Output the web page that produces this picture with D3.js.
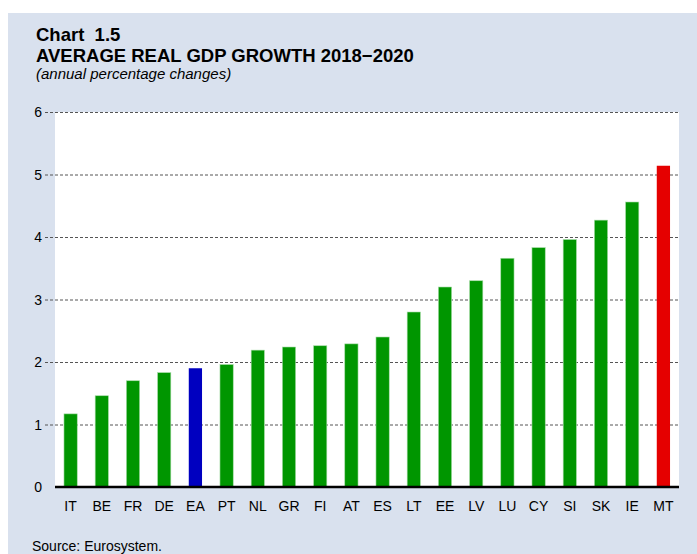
<!DOCTYPE html>
<html>
<head>
<meta charset="utf-8">
<script src="https://cdn.jsdelivr.net/npm/d3@7"></script>
<style>
  body { margin: 0; background: #fff; }
  svg { display: block; font-family: "Liberation Sans", Arial, sans-serif; }
</style>
</head>
<body>
<div id="chart"></div>
<script>
const countries = ['IT', 'BE', 'FR', 'DE', 'EA', 'PT', 'NL', 'GR', 'FI', 'AT', 'ES', 'LT', 'EE', 'LV', 'LU', 'CY', 'SI', 'SK', 'IE', 'MT'];
const growth = [1.17, 1.46, 1.70, 1.83, 1.90, 1.96, 2.19, 2.24, 2.26, 2.29, 2.40, 2.80, 3.20, 3.30, 3.66, 3.83, 3.96, 4.27, 4.56, 5.14];
const yTicks = [0, 1, 2, 3, 4, 5, 6];

const width = 697, height = 554;
const margin = { top: 112, right: 18, bottom: 67, left: 55 };

const svg = d3.select('#chart')
  .append('svg')
  .attr('width', width)
  .attr('height', height);

// panel background
svg.append('rect')
  .attr('x', 8).attr('y', 13)
  .attr('width', width - 8).attr('height', height - 13)
  .attr('fill', '#d9e1ee');

// titles
svg.append('text')
  .attr('x', 36).attr('y', 41)
  .style('font-size', '18.5px').style('font-weight', 'bold')
  .attr('xml:space', 'preserve')
  .text('Chart  1.5');
svg.append('text')
  .attr('x', 36).attr('y', 62)
  .style('font-size', '18.5px').style('font-weight', 'bold')
  .text('AVERAGE REAL GDP GROWTH 2018\u22122020');
svg.append('text')
  .attr('x', 36).attr('y', 79)
  .style('font-size', '15px').style('font-style', 'italic')
  .text('(annual percentage changes)');

const x = d3.scaleBand()
  .domain(countries)
  .range([margin.left, width - margin.right])
  .paddingInner(0.575)
  .paddingOuter(0.2875);

const y = d3.scaleLinear()
  .domain([0, 6])
  .range([height - margin.bottom, margin.top]);

// plot area
svg.append('rect')
  .attr('x', margin.left).attr('y', margin.top)
  .attr('width', width - margin.right - margin.left)
  .attr('height', y(0) - margin.top)
  .attr('fill', '#fff');

// gridlines
svg.append('g')
  .selectAll('line.gridline').data(yTicks.filter(d => d > 0)).enter()
  .append('line')
  .attr('class', 'gridline')
  .attr('x1', margin.left - 10)
  .attr('x2', width - margin.right)
  .attr('y1', d => y(d) + 0.5)
  .attr('y2', d => y(d) + 0.5)
  .style('stroke', '#555')
  .style('stroke-width', 1)
  .style('stroke-dasharray', '3,2');

// y labels
svg.append('g')
  .selectAll('text').data(yTicks).enter()
  .append('text')
  .attr('x', 42)
  .attr('y', d => y(d))
  .attr('dy', '0.36em')
  .attr('text-anchor', 'end')
  .style('font-size', '14px')
  .text(d => d);

const colorFor = c => c === 'EA' ? '#0000c0' : (c === 'MT' ? '#e50000' : '#009600');

// bars
svg.append('g')
  .selectAll('rect').data(countries).enter()
  .append('rect')
  .attr('x', d => x(d))
  .attr('y', (d, i) => y(growth[i]))
  .attr('width', x.bandwidth())
  .attr('height', (d, i) => y(0) - y(growth[i]))
  .attr('fill', d => colorFor(d))
  .attr('stroke', d => d === 'EA' || d === 'MT' ? 'none' : '#a8dca8')
  .attr('stroke-width', 0.6);

// zero line
svg.append('line')
  .attr('x1', margin.left).attr('x2', width - margin.right)
  .attr('y1', y(0)).attr('y2', y(0))
  .style('stroke', '#000')
  .style('stroke-width', 2.5);

// x labels
svg.append('g')
  .selectAll('text').data(countries).enter()
  .append('text')
  .attr('x', d => x(d) + x.bandwidth() / 2)
  .attr('y', 511)
  .attr('text-anchor', 'middle')
  .style('font-size', '14px')
  .text(d => d);

// source
svg.append('text')
  .attr('x', 32).attr('y', 551)
  .style('font-size', '14px')
  .text('Source: Eurosystem.');
</script>
</body>
</html>
